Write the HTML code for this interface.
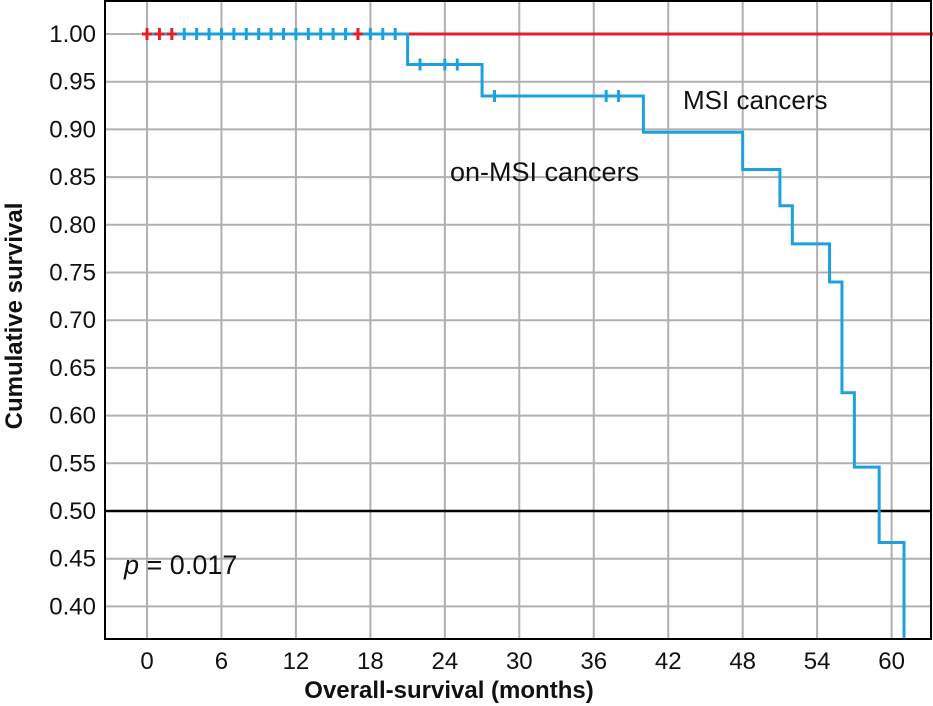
<!DOCTYPE html>
<html><head><meta charset="utf-8">
<style>
html,body{margin:0;padding:0;background:#fff;}
svg{display:block;font-family:"Liberation Sans","DejaVu Sans",sans-serif;}
</style></head>
<body>
<svg id="chart" width="933" height="706" viewBox="0 0 933 706">
<g id="grid"></g>
<g id="series"></g>
<g id="ticks"></g>
<rect x="105" y="1" width="826" height="638" fill="none" stroke="#000" stroke-width="2"/>
<text x="683" y="109" font-size="26" fill="#111">MSI cancers</text>
<text x="450" y="181" font-size="27" fill="#111">on-MSI cancers</text>
<text x="124" y="574" font-size="27" fill="#111"><tspan font-style="italic">p</tspan> = 0.017</text>
<text x="449" y="698" font-size="24" font-weight="600" fill="#111" text-anchor="middle">Overall-survival (months)</text>
<text transform="translate(22,316) rotate(-90)" font-size="24" font-weight="600" fill="#111" text-anchor="middle">Cumulative survival</text>
</svg>
<script>
const xTicks = [0,6,12,18,24,30,36,42,48,54,60];
const yTicks = [1.00,0.95,0.90,0.85,0.80,0.75,0.70,0.65,0.60,0.55,0.50,0.45,0.40];
const blueTimes = [0,21,27,40,48,51,52,55,56,57,59,61];
const blueSurv = [1.0,0.968,0.935,0.897,0.858,0.820,0.780,0.740,0.624,0.546,0.467,0.367];
const blueCensorT = [3,4,5,6,7,8,9,10,11,12,13,14,15,16,18,19,20,22,24,25,28,37,38];
const blueCensorS = [1,1,1,1,1,1,1,1,1,1,1,1,1,1,1,1,1,0.968,0.968,0.968,0.935,0.935,0.935];
const redTimes = [0,63.5];
const redSurv = [1.0,1.0];
const redCensorT = [0,1,2,17];
const refLine = 0.50;

const X = t => 147 + t*12.41;
const Y = s => 34 + (1 - s)*954;
const NS = "http://www.w3.org/2000/svg";
function mk(tag, attrs, parent){const e=document.createElementNS(NS,tag);for(const k in attrs)e.setAttribute(k,attrs[k]);parent.appendChild(e);return e;}
const grid=document.getElementById('grid'), ser=document.getElementById('series'), tk=document.getElementById('ticks');

xTicks.forEach(t=>{
  const l=mk('line',{x1:X(t),x2:X(t),y1:1,y2:639,stroke:'#b0b0b0','stroke-width':2},grid);
  
  
  const tx=mk('text',{x:X(t),y:669,'font-size':24,'text-anchor':'middle',fill:'#111'},tk);
  tx.textContent=String(t);
  
  
});
yTicks.forEach(s=>{
  const l=mk('line',{x1:105,x2:931,y1:Y(s),y2:Y(s),stroke:'#b0b0b0','stroke-width':2},grid);
  
  
  const tx=mk('text',{x:96,y:Y(s)+8,'font-size':24,'text-anchor':'end',fill:'#111'},tk);
  tx.textContent=s.toFixed(2);
  
  
});
const ref=mk('line',{x1:105,x2:931,y1:Y(refLine),y2:Y(refLine),stroke:'#000','stroke-width':2.5},grid);



function stepPath(ts,ss){
  let d='M'+X(ts[0])+','+Y(ss[0]);
  for(let i=1;i<ts.length;i++){d+=' H'+X(ts[i])+' V'+Y(ss[i]);}
  return d;
}
const rp=mk('path',{d:'M'+X(redTimes[0])+','+Y(redSurv[0])+' H'+X(redTimes[1]),stroke:'#e0202a','stroke-width':3,fill:'none'},ser);


const bp=mk('path',{d:stepPath(blueTimes,blueSurv),stroke:'#1ea0dc','stroke-width':3,fill:'none'},ser);


blueCensorT.forEach((t,i)=>{
  const c=mk('line',{x1:X(t),x2:X(t),y1:Y(blueCensorS[i])-6,y2:Y(blueCensorS[i])+6,stroke:'#1ea0dc','stroke-width':3},ser);
  
  
});
redCensorT.forEach(t=>{
  const h=mk('line',{x1:X(t)-5,x2:X(t)+5,y1:Y(1),y2:Y(1),stroke:'#e0202a','stroke-width':3},ser);
  
  
  const c=mk('line',{x1:X(t),x2:X(t),y1:Y(1)-6,y2:Y(1)+6,stroke:'#e0202a','stroke-width':3},ser);
  
  
});
</script>
</body></html>
